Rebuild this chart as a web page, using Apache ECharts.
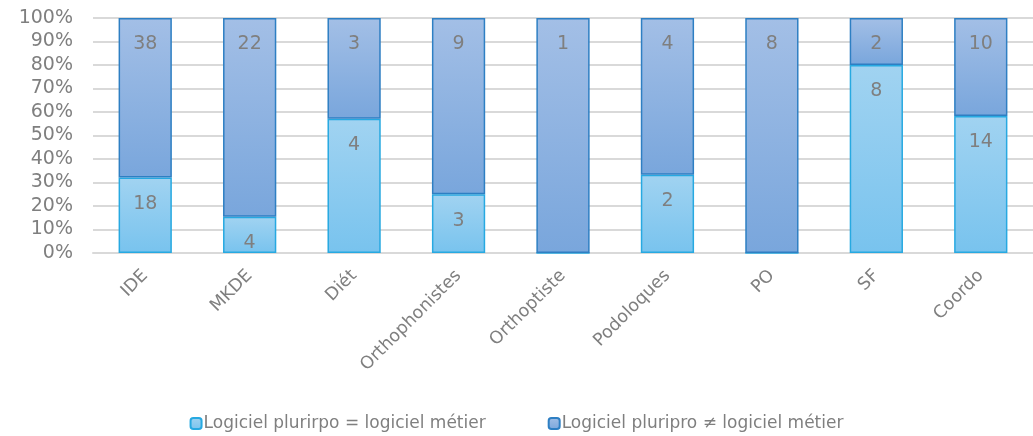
<!DOCTYPE html>
<html><head><meta charset="utf-8">
<script src="https://cdn.jsdelivr.net/npm/echarts@6/dist/echarts.min.js"></script>
<style>html,body{margin:0;padding:0;background:#fff}#c{width:1033px;height:436px}</style>
</head><body><div id="c"></div>
<script>
const categories = ['IDE','MKDE','Diét','Orthophonistes','Orthoptiste','Podoloques','PO','SF','Coordo'];
const seriesNames = ['Logiciel plurirpo = logiciel métier','Logiciel pluripro \u2260 logiciel métier'];
const sameCounts = [18,4,4,3,0,2,0,8,14];
const diffCounts = [38,22,3,9,1,4,8,2,10];
const yTicks = [0,10,20,30,40,50,60,70,80,90,100];

const totals = categories.map((c,i)=>sameCounts[i]+diffCounts[i]);
const pct = (arr)=>arr.map((v,i)=>({value: v/totals[i]*100, count: v}));
const font = 'DejaVu Sans';
const txt = '#7f7f7f';

function grad(top,bottom){
  return {type:'linear',x:0,y:0,x2:0,y2:1,colorStops:[{offset:0,color:top},{offset:1,color:bottom}]};
}
const lbl = {show:true, position:'insideTop', distance:17, color:txt, fontFamily:font, fontSize:19,
  formatter:p=> p.data.count===0 ? '' : String(p.data.count)};

const chart = echarts.init(document.getElementById('c'), null, {renderer:'canvas'});
chart.setOption({
  animation:false,
  textStyle:{fontFamily:font},
  grid:{left:93, top:18, width:957, height:235, containLabel:false},
  legend:{bottom:-1, left:'center', itemWidth:11, itemHeight:11, itemGap:62,
    textStyle:{color:txt, fontFamily:font, fontSize:17, padding:[0,0,0,-3]},
    data:seriesNames},
  xAxis:{type:'category', data:categories,
    axisLine:{lineStyle:{color:'#d9d9d9', width:2}}, axisTick:{show:false},
    axisLabel:{rotate:45, color:txt, fontFamily:font, fontSize:17.5, margin:20, interval:0}},
  yAxis:{type:'value', min:0, max:100, interval:10,
    axisLabel:{formatter:'{value}%', color:txt, fontFamily:font, fontSize:19, margin:20},
    splitLine:{lineStyle:{color:'#d9d9d9', width:2}},
    axisLine:{show:false}, axisTick:{show:false}},
  series:[
    {name:seriesNames[0], type:'bar', stack:'t', barWidth:'51%', data:pct(sameCounts),
      itemStyle:{color:grad('#a1d3f1','#78c3ee'), borderColor:'#27a9e1', borderWidth:1.5},
      label:lbl},
    {name:seriesNames[1], type:'bar', stack:'t', barWidth:'51%', data:pct(diffCounts),
      itemStyle:{color:grad('#a3bfe6','#79a6dc'), borderColor:'#2e7fc3', borderWidth:1.5},
      label:lbl}
  ]
});
</script></body></html>
